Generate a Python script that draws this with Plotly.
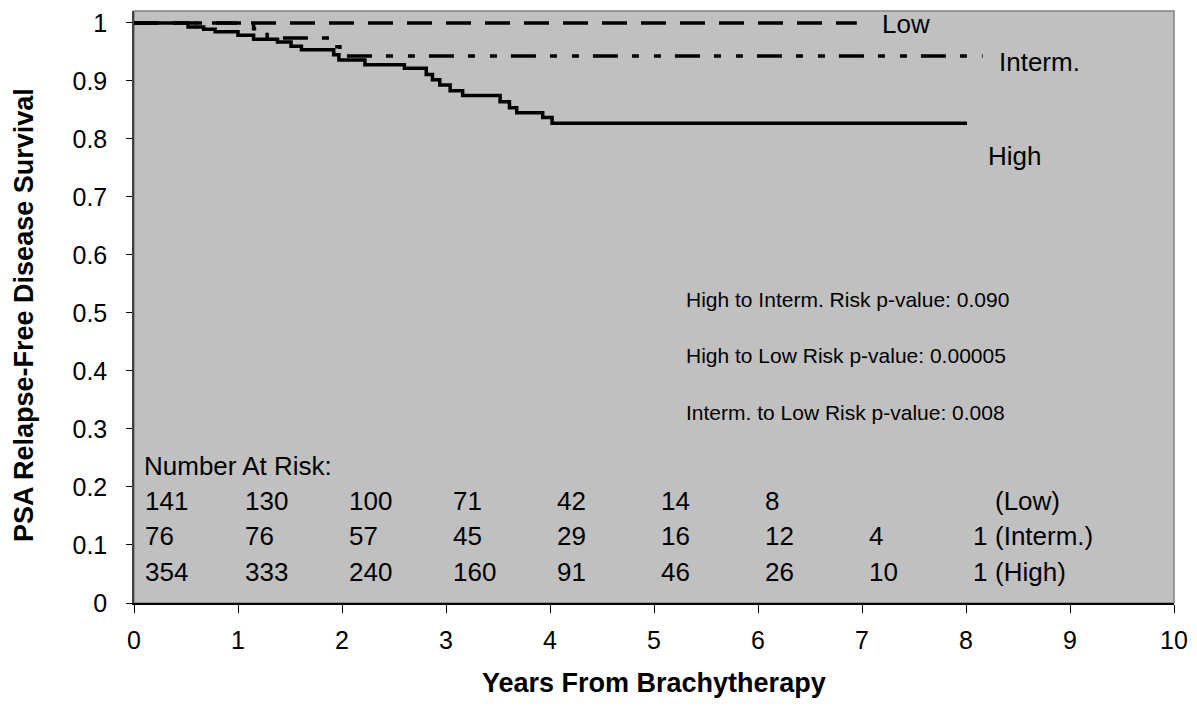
import plotly.graph_objects as go

# ---- data ----
high_t = [0, 0.52, 0.67, 0.78, 1.00, 1.15, 1.38, 1.51, 1.61, 1.92, 1.97, 2.22, 2.60, 2.81, 2.87,
          2.94, 3.04, 3.16, 3.52, 3.61, 3.68, 3.93, 4.02, 8.01]
high_s = [1.0, 0.993, 0.989, 0.985, 0.979, 0.972, 0.967, 0.960, 0.954, 0.945, 0.936, 0.928, 0.922,
          0.911, 0.902, 0.893, 0.883, 0.875, 0.864, 0.854, 0.845, 0.837, 0.827, 0.827]

interm_t = [0, 1.15, 1.28, 1.93, 1.98, 8.16]
interm_s = [1.0, 0.990, 0.974, 0.959, 0.943, 0.943]

low_t = [0, 6.95]
low_s = [1.0, 1.0]

risk_times = [0, 1, 2, 3, 4, 5, 6, 7, 8]
risk_low = [141, 130, 100, 71, 42, 14, 8, None, None]
risk_interm = [76, 76, 57, 45, 29, 16, 12, 4, 1]
risk_high = [354, 333, 240, 160, 91, 46, 26, 10, 1]
risk_groups = ["(Low)", "(Interm.)", "(High)"]

pvalue_lines = [
    "High to Interm. Risk p-value: 0.090",
    "High to Low Risk p-value: 0.00005",
    "Interm. to Low Risk p-value: 0.008",
]

x_ticks = list(range(0, 11))
y_ticks = [round(i * 0.1, 1) for i in range(0, 11)]
y_tick_text = ["0", "0.1", "0.2", "0.3", "0.4", "0.5", "0.6", "0.7", "0.8", "0.9", "1"]

FONT = "Liberation Sans, Arial, sans-serif"

fig = go.Figure()
fig.add_trace(go.Scatter(x=low_t, y=low_s, mode="lines", line=dict(color="black", width=3.5, dash="25px,14px", shape="hv"),
                         showlegend=False, hoverinfo="skip"))
fig.add_trace(go.Scatter(x=interm_t, y=interm_s, mode="lines",
                         line=dict(color="black", width=3.5, dash="25px,14px,7px,15px,7px,14px", shape="hv"),
                         showlegend=False, hoverinfo="skip"))
fig.add_trace(go.Scatter(x=high_t, y=high_s, mode="lines", line=dict(color="black", width=3.5, shape="hv"),
                         showlegend=False, hoverinfo="skip"))

ann = []
# curve labels
lab_font = dict(family=FONT, size=26, color="black")
ann.append(dict(x=7.17, y=0.998, text="Low", xanchor="left", yanchor="middle", showarrow=False, font=lab_font))
ann.append(dict(x=8.30, y=0.933, text="Interm.", xanchor="left", yanchor="middle", showarrow=False, font=lab_font))
ann.append(dict(x=8.19, y=0.77, text="High", xanchor="left", yanchor="middle", showarrow=False, font=lab_font))
# p-values
for i, t in enumerate(pvalue_lines):
    ann.append(dict(x=5.29, y=0.524 - i * 0.098, text=t, xanchor="left", yanchor="middle", showarrow=False,
                    font=dict(family=FONT, size=21, color="black")))
# number at risk
risk_font = dict(family=FONT, size=26, color="black")
ann.append(dict(x=0.08, y=0.2354, text="Number At Risk:", xanchor="left", yanchor="middle", showarrow=False,
                font=risk_font))
row_y = [0.1753, 0.1151, 0.0533]
for ry, row, grp in zip(row_y, [risk_low, risk_interm, risk_high], risk_groups):
    for t, v in zip(risk_times, row):
        if v is None:
            continue
        ann.append(dict(x=t, y=ry, text=str(v), xanchor="left", yanchor="middle", showarrow=False,
                        xshift=9 if t == 0 else 5, font=risk_font))
    ann.append(dict(x=risk_times[-1], y=ry, text=grp, xanchor="left", yanchor="middle", showarrow=False, xshift=27,
                    font=risk_font))

# axis titles
ann.append(dict(x=0.5, y=0, xref="paper", yref="paper", text="<b>Years From Brachytherapy</b>", showarrow=False,
                xanchor="center", yanchor="middle", yshift=-80, font=dict(family=FONT, size=27, color="black")))
ann.append(dict(x=0, y=0.5, xref="paper", yref="paper", text="<b>PSA Relapse-Free Disease Survival</b>", showarrow=False,
                textangle=-90, xanchor="center", yanchor="middle", xshift=-110, yshift=-8,
                font=dict(family=FONT, size=27, color="black")))

fig.update_layout(
    width=1197, height=711,
    margin=dict(l=134, r=22, t=9, b=108),
    paper_bgcolor="white", plot_bgcolor="#C0C0C0",
    annotations=ann,
    shapes=[dict(type="rect", xref="paper", yref="paper", x0=0, y0=0, x1=1, y1=1,
                 line=dict(color="#808080", width=1.5), layer="below")],
    xaxis=dict(range=[0, 10], tickvals=x_ticks, ticks="outside", ticklen=8, tickcolor="black", tickwidth=1,
               showline=True, linecolor="black", linewidth=1.5, showgrid=False, zeroline=False,
               tickfont=dict(family=FONT, size=25, color="black"), ticklabelstandoff=6),
    yaxis=dict(range=[0, 1.0206], tickvals=y_ticks, ticktext=y_tick_text, ticks="outside", ticklen=6,
               tickcolor="black", tickwidth=1, showline=True, linecolor="#404040", linewidth=1.5,
               showgrid=False, zeroline=False, tickfont=dict(family=FONT, size=25, color="black"),
               ticklabelstandoff=14),
)

fig.write_html("out.html", config={"displayModeBar": False},
               post_script="document.body.style.margin='0';document.body.style.overflow='hidden';")
